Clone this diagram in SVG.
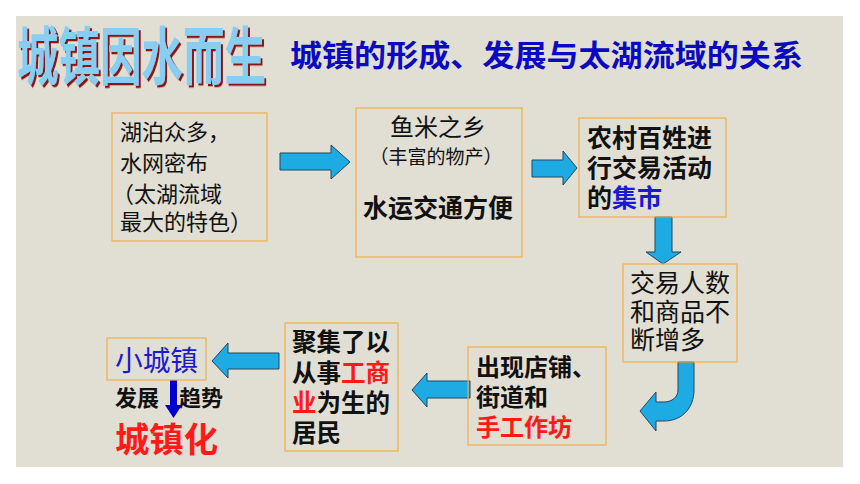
<svg xmlns="http://www.w3.org/2000/svg" width="860" height="484" viewBox="0 0 860 484">
<defs>
<filter id="redshadow" x="-5%" y="-10%" width="115%" height="130%">
<feDropShadow dx="2" dy="1.5" stdDeviation="0" flood-color="#8b1414" flood-opacity="1"/>
</filter>
</defs>
<style>
text{font-family:"Noto Sans CJK SC","Noto Sans",sans-serif;fill:#111}
.box{fill:none;stroke:#f0b048;stroke-width:1.2}
.arr{fill:#1eaae2;stroke:#24465e;stroke-width:1}
.b{font-weight:bold}
.red{fill:#ff1a1a}
.blue{fill:#1a1ad0}
</style>
<rect x="0" y="0" width="860" height="484" fill="#ffffff"/>
<rect x="16" y="16" width="827" height="451" fill="#e1ded3"/>
<g id="title">
<g transform="translate(17,79) scale(1,1.5)" filter="url(#redshadow)"><text x="0" y="0" font-size="42" class="b" textLength="249" lengthAdjust="spacingAndGlyphs" style="fill:#88cdf2">城镇因水而生</text></g>
<text x="290" y="66" font-size="30" class="b" textLength="513" lengthAdjust="spacingAndGlyphs" style="fill:#0a0ac0">城镇的形成、发展与太湖流域的关系</text>
</g>
<g id="connectors">
<path class="arr" d="M280,153 L331,153 L331,145 L350,162 L331,179 L331,170 L280,170 Z"/>
<path class="arr" d="M532,160 L563,160 L563,151 L577,168 L563,185 L563,177 L532,177 Z"/>
<path class="arr" d="M655,217 L672,217 L672,252 L681,252 L663,264 L646,252 L655,252 Z"/>
<path class="arr" d="M678,362 L694,362 L694,390 C694,408 682,421 664,421 L656,421 L656,431 L640,411 L656,392 L656,402 L664,402 C672,402 678,397 678,390 Z"/>
<path class="arr" d="M470,381 L427,381 L427,373 L412,390 L427,407 L427,398 L470,398 Z"/>
<path class="arr" d="M279,353 L228,353 L228,343 L212,361 L228,378 L228,369 L279,369 Z"/>
<path d="M170,380 L177,380 L177,405 L182,405 L173.5,418 L165,405 L170,405 Z" fill="#0000cc"/>
</g>
<g id="node-lakes">
<rect class="box" x="112" y="113" width="155" height="128"/>
<text font-size="22"><tspan x="120" y="140">湖泊众多，</tspan><tspan x="120" y="171">水网密布</tspan><tspan x="112" y="202">（太湖流域</tspan><tspan x="120" y="230">最大的特色）</tspan></text>
</g>
<g id="node-fishrice">
<rect class="box" x="356" y="108" width="166" height="149"/>
<text x="438" y="136" font-size="24" text-anchor="middle">鱼米之乡</text>
<text x="436" y="164" font-size="19" text-anchor="middle">（丰富的物产）</text>
<text x="438" y="217" font-size="25" class="b" text-anchor="middle">水运交通方便</text>
</g>
<g id="node-market">
<rect class="box" x="579" y="118" width="147" height="99"/>
<text font-size="25" class="b"><tspan x="587" y="147">农村百姓进</tspan><tspan x="587" y="177">行交易活动</tspan><tspan x="587" y="207">的<tspan class="blue">集市</tspan></tspan></text>
</g>
<g id="node-trade">
<rect class="box" x="623" y="264" width="114" height="98"/>
<text font-size="25"><tspan x="630" y="292">交易人数</tspan><tspan x="630" y="321">和商品不</tspan><tspan x="630" y="349">断增多</tspan></text>
</g>
<g id="node-shops">
<rect class="box" x="468" y="347" width="138" height="98"/>
<text font-size="24" class="b"><tspan x="476" y="376">出现店铺、</tspan><tspan x="476" y="406">街道和</tspan><tspan x="476" y="436" class="red">手工作坊</tspan></text>
</g>
<g id="node-residents">
<rect class="box" x="285" y="323" width="113" height="128"/>
<text font-size="24.5" class="b"><tspan x="292" y="351">聚集了以</tspan><tspan x="292" y="382">从事<tspan class="red">工商</tspan></tspan><tspan x="292" y="412"><tspan class="red">业</tspan>为生的</tspan><tspan x="292" y="442">居民</tspan></text>
</g>
<g id="node-town">
<rect class="box" x="107" y="338" width="99" height="42"/>
<text x="115" y="371" font-size="28" class="blue" textLength="83" lengthAdjust="spacingAndGlyphs">小城镇</text>
</g>
<g id="node-trend">
<text x="115" y="406" font-size="22" class="b">发展</text>
<text x="179" y="406" font-size="22" class="b">趋势</text>
</g>
<g id="node-urbanization">
<text x="115" y="452" font-size="34" class="b red" textLength="103" lengthAdjust="spacingAndGlyphs">城镇化</text>
</g>
</svg>
